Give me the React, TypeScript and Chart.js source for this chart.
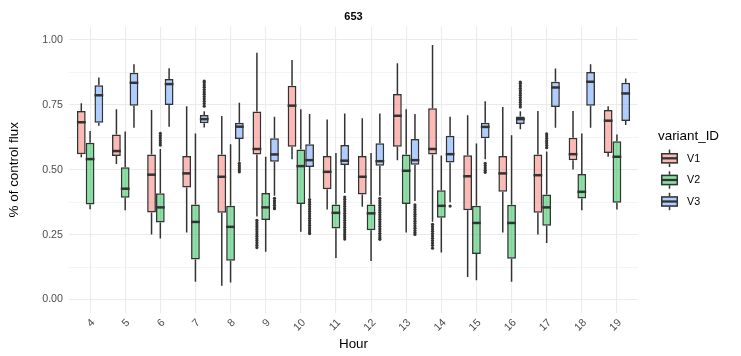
import { useEffect, useRef } from "react";
import { Chart, registerables } from "chart.js";

Chart.register(...registerables);

const hours = [4, 5, 6, 7, 8, 9, 10, 11, 12, 13, 14, 15, 16, 17, 18, 19];
const variants = ["V1", "V2", "V3"];
const yTicks = [0, 0.125, 0.25, 0.375, 0.5, 0.625, 0.75, 0.875, 1];
const chartTitle = "653";

const v1Low = [0.548, 0.522, 0.251, 0.258, 0.053, 0.32, 0.54, 0.347, 0.357, 0.537, 0.3, 0.087, 0.258, 0.251, 0.501, 0.55];
const v1Q1 = [0.56, 0.553, 0.335, 0.432, 0.334, 0.559, 0.589, 0.425, 0.405, 0.589, 0.559, 0.344, 0.415, 0.334, 0.537, 0.565];
const v1Med = [0.683, 0.572, 0.481, 0.486, 0.473, 0.58, 0.747, 0.492, 0.473, 0.708, 0.58, 0.475, 0.486, 0.479, 0.56, 0.689];
const v1Q3 = [0.726, 0.636, 0.559, 0.553, 0.559, 0.724, 0.824, 0.553, 0.553, 0.792, 0.737, 0.556, 0.553, 0.559, 0.623, 0.73];
const v1High = [0.756, 0.733, 0.73, 0.745, 0.707, 0.951, 0.923, 0.694, 0.698, 0.91, 0.981, 0.71, 0.742, 0.726, 0.726, 0.745];
const v1Outliers: Record<number, number[]> = {
  9: [0.305, 0.296, 0.287, 0.279, 0.27, 0.261, 0.252, 0.244, 0.235, 0.227, 0.218, 0.209, 0.2],
  14: [0.29, 0.281, 0.272, 0.263, 0.254, 0.245, 0.236, 0.227, 0.218, 0.209, 0.198],
};

const v2Low = [0.348, 0.344, 0.235, 0.068, 0.066, 0.184, 0.261, 0.16, 0.148, 0.258, 0.181, 0.074, 0.068, 0.218, 0.344, 0.347];
const v2Q1 = [0.366, 0.392, 0.297, 0.154, 0.149, 0.306, 0.368, 0.274, 0.267, 0.368, 0.315, 0.175, 0.157, 0.284, 0.389, 0.373];
const v2Med = [0.541, 0.427, 0.355, 0.299, 0.28, 0.355, 0.514, 0.334, 0.332, 0.496, 0.361, 0.295, 0.295, 0.355, 0.415, 0.55];
const v2Q3 = [0.604, 0.51, 0.409, 0.366, 0.361, 0.41, 0.578, 0.366, 0.366, 0.559, 0.421, 0.361, 0.365, 0.405, 0.484, 0.61];
const v2High = [0.649, 0.647, 0.58, 0.64, 0.598, 0.55, 0.733, 0.565, 0.565, 0.733, 0.555, 0.601, 0.633, 0.57, 0.64, 0.636];
const v2Outliers: Record<number, number[]> = {
  6: [0.595, 0.604, 0.613, 0.622, 0.631, 0.64],
  17: [0.585, 0.594, 0.603, 0.612, 0.621, 0.63, 0.638],
};

const v3Low = [0.67, 0.662, 0.666, 0.663, 0.531, 0.4, 0.39, 0.41, 0.4, 0.38, 0.375, 0.54, 0.656, 0.662, 0.662, 0.672];
const v3Q1 = [0.681, 0.747, 0.749, 0.679, 0.618, 0.531, 0.511, 0.518, 0.515, 0.519, 0.528, 0.621, 0.676, 0.742, 0.747, 0.688];
const v3Med = [0.787, 0.835, 0.83, 0.695, 0.666, 0.559, 0.537, 0.535, 0.533, 0.537, 0.56, 0.665, 0.695, 0.817, 0.839, 0.794];
const v3Q3 = [0.826, 0.874, 0.85, 0.711, 0.681, 0.621, 0.598, 0.595, 0.602, 0.618, 0.631, 0.681, 0.705, 0.839, 0.877, 0.835];
const v3High = [0.855, 0.906, 0.891, 0.725, 0.758, 0.704, 0.715, 0.717, 0.717, 0.715, 0.704, 0.764, 0.725, 0.89, 0.906, 0.852];
const v3Outliers: Record<number, number[]> = {
  7: [0.745, 0.755, 0.764, 0.773, 0.782, 0.791, 0.8, 0.809, 0.818, 0.827, 0.836, 0.842],
  8: [0.525, 0.516, 0.508, 0.5, 0.492],
  9: [0.39, 0.381, 0.372, 0.363, 0.354, 0.35],
  10: [0.385, 0.376, 0.367, 0.358, 0.349, 0.34, 0.331, 0.322, 0.313, 0.304, 0.295, 0.286, 0.277, 0.268, 0.26, 0.254],
  11: [0.395, 0.386, 0.377, 0.368, 0.359, 0.35, 0.341, 0.332, 0.323, 0.314, 0.305, 0.296, 0.287, 0.278, 0.269, 0.26, 0.251, 0.242, 0.233],
  12: [0.39, 0.381, 0.372, 0.363, 0.354, 0.345, 0.336, 0.327, 0.318, 0.309, 0.3, 0.291, 0.282, 0.273, 0.264, 0.255, 0.246, 0.238, 0.232],
  13: [0.365, 0.356, 0.347, 0.338, 0.329, 0.32, 0.311, 0.302, 0.293, 0.284, 0.275, 0.266, 0.258, 0.251],
  14: [0.36],
  15: [0.525, 0.516, 0.507, 0.498, 0.49],
  16: [0.742, 0.751, 0.76, 0.769, 0.778, 0.787, 0.796, 0.805, 0.814, 0.823, 0.832, 0.838],
};

const fills = ["rgba(248,118,109,0.5)", "rgba(0,186,56,0.45)", "rgba(97,156,255,0.5)"];
const OUTLINE = "#333333";
const FONT = "'Liberation Sans', Arial, Helvetica, sans-serif";

const stats = [
  { lo: v1Low, q1: v1Q1, med: v1Med, q3: v1Q3, hi: v1High, out: v1Outliers },
  { lo: v2Low, q1: v2Q1, med: v2Med, q3: v2Q3, hi: v2High, out: v2Outliers },
  { lo: v3Low, q1: v3Q1, med: v3Med, q3: v3Q3, hi: v3High, out: v3Outliers },
];

const boxPlugin = {
  id: "boxExtras",
  afterDatasetsDraw(chart: any) {
    const ctx = chart.ctx as CanvasRenderingContext2D;
    const y = chart.scales.y;
    const area = chart.chartArea;
    ctx.save();
    chart.data.datasets.forEach((_ds: any, di: number) => {
      const meta = chart.getDatasetMeta(di);
      const st = stats[di];
      meta.data.forEach((bar: any, i: number) => {
        const x = bar.x;
        const w = bar.width;
        ctx.strokeStyle = OUTLINE;
        ctx.lineWidth = 1.5;
        ctx.beginPath();
        ctx.moveTo(x, y.getPixelForValue(st.hi[i]));
        ctx.lineTo(x, y.getPixelForValue(st.q3[i]));
        ctx.moveTo(x, y.getPixelForValue(st.q1[i]));
        ctx.lineTo(x, y.getPixelForValue(st.lo[i]));
        ctx.stroke();
        const ym = y.getPixelForValue(st.med[i]);
        ctx.lineWidth = 2.5;
        ctx.beginPath();
        ctx.moveTo(x - w / 2, ym);
        ctx.lineTo(x + w / 2, ym);
        ctx.stroke();
        ctx.fillStyle = OUTLINE;
        (st.out[hours[i]] || []).forEach((v: number) => {
          ctx.beginPath();
          ctx.arc(x, y.getPixelForValue(v), 1.6, 0, Math.PI * 2);
          ctx.fill();
        });
      });
    });

    // title
    ctx.fillStyle = "#000000";
    ctx.font = `bold 11px ${FONT}`;
    ctx.textAlign = "center";
    ctx.textBaseline = "middle";
    ctx.fillText(chartTitle, (area.left + area.right) / 2, 16.5);

    // legend
    ctx.textAlign = "left";
    ctx.font = `13.4px ${FONT}`;
    ctx.fillText("variant_ID", 658, 136);
    const rows = [158.3, 180, 201.5];
    ctx.font = `10.7px ${FONT}`;
    variants.forEach((name, k) => {
      const cy = rows[k];
      const kx0 = 661;
      const kx1 = 678;
      const kc = (kx0 + kx1) / 2;
      ctx.strokeStyle = OUTLINE;
      ctx.lineWidth = 1.5;
      ctx.beginPath();
      ctx.moveTo(kc, cy - 8.7);
      ctx.lineTo(kc, cy + 8.7);
      ctx.stroke();
      ctx.fillStyle = "#ffffff";
      ctx.fillRect(kx0, cy - 5.3, kx1 - kx0, 10.6);
      ctx.fillStyle = fills[k];
      ctx.fillRect(kx0, cy - 5.3, kx1 - kx0, 10.6);
      ctx.strokeRect(kx0 + 0.75, cy - 5.3 + 0.75, kx1 - kx0 - 1.5, 10.6 - 1.5);
      ctx.lineWidth = 2.3;
      ctx.beginPath();
      ctx.moveTo(kx0, cy);
      ctx.lineTo(kx1, cy);
      ctx.stroke();
      ctx.fillStyle = "#000000";
      ctx.fillText(name, 687, cy + 0.5);
    });
    ctx.restore();
  },
};

export default function App() {
  const canvasRef = useRef<HTMLCanvasElement | null>(null);

  useEffect(() => {
    document.body.style.margin = "0";
    const canvas = canvasRef.current;
    if (!canvas) return;
    const datasets = variants.map((name, k) => ({
      label: name,
      data: hours.map((h, i) => ({ x: h, y: [stats[k].q1[i], stats[k].q3[i]] })),
      backgroundColor: fills[k],
      borderColor: OUTLINE,
      borderWidth: 1.5,
      borderSkipped: false,
      categoryPercentage: 0.75,
      barPercentage: 1,
    }));

    const chart = new Chart(canvas, {
      type: "bar",
      data: { datasets: datasets as any },
      options: {
        responsive: false,
        animation: false,
        devicePixelRatio: 1,
        layout: { padding: { top: 27, right: 103, bottom: 0, left: 0 } },
        plugins: {
          legend: { display: false },
          tooltip: { enabled: false },
          title: { display: false },
        },
        scales: {
          x: {
            type: "linear",
            min: 3.4,
            max: 19.6,
            offset: false,
            afterBuildTicks: (s: any) => {
              s.ticks = hours.map((h) => ({ value: h }));
            },
            afterFit: (s: any) => {
              s.height = 43.5;
            },
            grid: { offset: false, color: "#EBEBEB", lineWidth: 1.1, drawTicks: false },
            border: { display: false },
            ticks: {
              autoSkip: false,
              minRotation: 45,
              maxRotation: 45,
              padding: 4,
              labelOffset: 3,
              color: "#4D4D4D",
              font: { family: FONT, size: 10.7 },
              callback: (v: any) => String(v),
            },
            title: {
              display: true,
              text: "Hour",
              color: "#000000",
              font: { family: FONT, size: 13.4 },
              padding: { top: 0, bottom: 3.5 },
            },
          },
          y: {
            min: -0.05,
            max: 1.05,
            afterBuildTicks: (s: any) => {
              s.ticks = yTicks.map((v) => ({ value: v }));
            },
            afterFit: (s: any) => {
              s.width = 69;
            },
            grid: {
              color: "#EBEBEB",
              drawTicks: false,
              lineWidth: (c: any) => (c.tick && Math.abs((c.tick.value * 4) % 1) < 1e-9 ? 1.1 : 0.55),
            },
            border: { display: false },
            ticks: {
              autoSkip: false,
              padding: 6,
              color: "#4D4D4D",
              font: { family: FONT, size: 10.7 },
              callback: (v: any) => (Math.abs((Number(v) * 4) % 1) < 1e-9 ? Number(v).toFixed(2) : ""),
            },
            title: {
              display: true,
              text: "% of control flux",
              color: "#000000",
              font: { family: FONT, size: 13.4 },
              padding: { top: 6, bottom: 0 },
            },
          },
        },
      } as any,
      plugins: [boxPlugin],
    });
    return () => chart.destroy();
  }, []);

  return (
    <div style={{ width: 741, height: 356, background: "#ffffff" }}>
      <canvas ref={canvasRef} width={741} height={356} />
    </div>
  );
}
